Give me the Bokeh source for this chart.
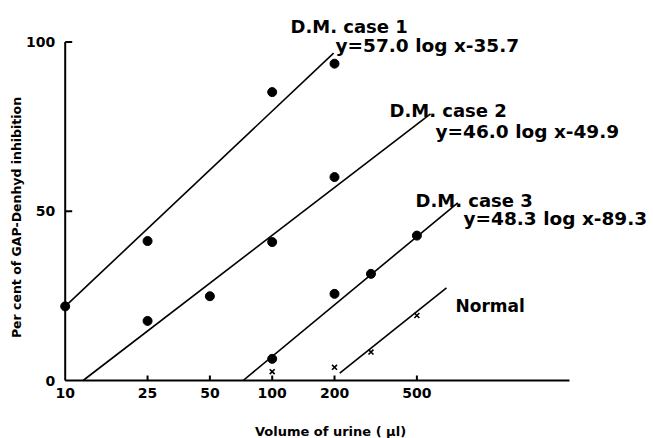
import math
from bokeh.plotting import figure
from bokeh.models import Range1d, Label
from bokeh.core.properties import value
from bokeh.embed import file_html
from bokeh.resources import INLINE

# ---- data ----
x_ticks = [10, 25, 50, 100, 200, 500]
x_tick_labels = ["10", "25", "50", "100", "200", "500"]
y_ticks = [0, 50, 100]
y_tick_labels = ["0", "50", "100"]
x_axis_end = 2730

case1_x = [10, 25, 100, 200]
case1_y = [21.9, 41.2, 85.2, 93.6]
case2_x = [25, 50, 100, 200]
case2_y = [17.6, 24.9, 40.9, 60.1]
case3_x = [100, 200, 300, 500]
case3_y = [6.4, 25.6, 31.5, 42.8]
normal_x = [100, 200, 300, 500]
normal_y = [2.6, 3.9, 8.4, 19.2]

fit1_x = [10, 198]
fit1_y = [21.9, 96.7]
fit2_x = [12.2, 582]
fit2_y = [0, 78.8]
fit3_x = [72.4, 788]
fit3_y = [0, 52.5]
fitn_x = [212, 695]
fitn_y = [2.2, 27.4]

titles = ["D.M. case 1", "D.M. case 2", "D.M. case 3", "Normal"]
equations = ["y=57.0 log x-35.7", "y=46.0 log x-49.9", "y=48.3 log x-89.3"]
x_title = "Volume of urine ( \u03bcl)"
y_title = "Per cent of GAP-Denhyd inhibition"

FONT = "DejaVu Sans"
W, H = 653, 438


# canvas-pixel -> data helpers (layout only)
def dx(px):
    return 10 ** (1 + (px - 64.7) / 207.0)


def dy(py):
    return (380.0 - py) / 3.385


p = figure(width=W, height=H, x_axis_type="log",
           x_range=Range1d(dx(0), dx(W)), y_range=Range1d(dy(H), dy(0)),
           output_backend="svg", toolbar_location=None,
           min_border_left=0, min_border_right=0, min_border_top=0,
           min_border_bottom=0)
p.outline_line_color = None
p.xgrid.visible = False
p.ygrid.visible = False
p.xaxis.visible = False
p.yaxis.visible = False
p.background_fill_color = "white"

# axes drawn through the plot's scales
p.segment(x0=[x_ticks[0], x_ticks[0]], y0=[y_ticks[0], y_ticks[0]],
          x1=[x_axis_end, x_ticks[0]], y1=[y_ticks[0], y_ticks[-1]],
          line_color="black", line_width=2)
p.ray(x=x_ticks[1:], y=[y_ticks[0]] * (len(x_ticks) - 1), length=5,
      length_units="screen", angle=math.pi / 2, line_color="black", line_width=2)
p.ray(x=[x_ticks[0]] * (len(y_ticks) - 1), y=y_ticks[1:], length=7,
      length_units="screen", angle=0, line_color="black", line_width=2)

p.text(x=x_ticks, y=[y_ticks[0]] * len(x_ticks), text=x_tick_labels,
       text_font=value(FONT), text_font_style="bold", text_font_size=value("14px"),
       text_color="black", text_align="center", text_baseline="top", y_offset=7)
p.text(x=[x_ticks[0]] * len(y_ticks), y=y_ticks, text=y_tick_labels,
       text_font=value(FONT), text_font_style="bold", text_font_size=value("14px"),
       text_color="black", text_align="right", text_baseline="middle", x_offset=-10)

# fitted lines
for fx, fy in [(fit1_x, fit1_y), (fit2_x, fit2_y), (fit3_x, fit3_y), (fitn_x, fitn_y)]:
    p.line(fx, fy, line_color="black", line_width=1.6)

# points
for sx, sy in [(case1_x, case1_y), (case2_x, case2_y), (case3_x, case3_y)]:
    p.scatter(sx, sy, marker="circle", size=9, fill_color="black", line_color="black")
p.scatter(normal_x, normal_y, marker="x", size=7, line_color="black", line_width=1.6)


def add_label(px, py, text, size, align="left", angle=0.0):
    p.add_layout(Label(x=dx(px), y=dy(py), text=text, text_font=FONT,
                       text_font_style="bold", text_font_size=size,
                       text_color="black", text_align=align,
                       text_baseline="alphabetic", angle=angle))


add_label(290, 25.5, titles[0], "18px")
add_label(335, 45, equations[0], "18.5px")
add_label(389, 110, titles[1], "18px")
add_label(435, 130.7, equations[1], "18.5px")
add_label(415, 200, titles[2], "18px")
add_label(463, 218, equations[2], "18.5px")
add_label(455, 305, titles[3], "17px")
add_label(330, 431, x_title, "13px", align="center")
add_label(16, 217, y_title, "12.5px", align="center", angle=math.pi / 2)

open("out.html", "w").write(file_html(p, INLINE))
